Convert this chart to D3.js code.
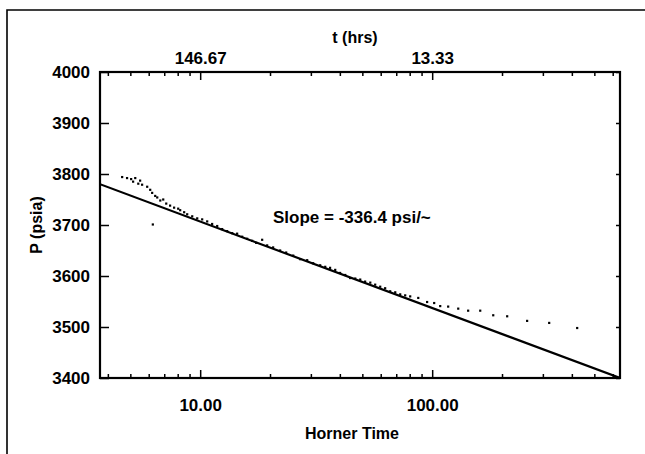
<!DOCTYPE html>
<html>
<head>
<meta charset="utf-8">
<script src="https://cdn.jsdelivr.net/npm/d3@7"></script>
<style>
body { margin: 0; background: #fff; }
text { font-family: Arial, "Liberation Sans", sans-serif; font-weight: bold; fill: #000; }
</style>
</head>
<body>
<svg id="mySvg" width="645" height="454"></svg>
<script>
//data
var hornerTime = [4.61, 4.84, 5.04, 5.25, 5.14, 5.41, 5.62, 5.51, 5.91, 6.09, 6.21, 6.40, 6.53, 6.73, 6.93, 7.14, 7.42, 7.72, 8.04, 8.20,
    8.53, 8.79, 9.24, 9.71, 10.2, 10.72, 11.26, 11.84, 12.44, 13.07, 13.74, 14.43, 15.17, 15.94, 16.75, 17.43, 18.5, 19.44, 20.63, 22.11,
    23.48, 25.18, 26.98, 28.92, 30.69, 32.9, 34.6, 36.3, 38.2, 40.1, 42.2, 44.3, 46.6, 48.96, 51.4, 54.1, 56.8, 59.7, 62.7, 65.9,
    69.3, 72.8, 76.5, 80.4, 87.1, 95.1, 102, 108.3, 117.2, 129.5, 142.9, 161.1, 183.3, 210.5, 256.6, 319.4, 421.7, 6.25];
var pressure = [3794, 3792, 3790, 3792, 3785, 3781, 3779, 3787, 3775, 3769, 3763, 3757, 3754, 3748, 3750, 3742, 3738, 3734, 3732, 3729,
    3725, 3721, 3717, 3713, 3711, 3707, 3702, 3698, 3692, 3688, 3684, 3683, 3677, 3673, 3669, 3665, 3671, 3660, 3656, 3650,
    3646, 3640, 3633, 3631, 3625, 3621, 3618, 3616, 3612, 3606, 3602, 3596, 3595, 3593, 3589, 3587, 3583, 3579, 3576, 3570,
    3568, 3564, 3562, 3560, 3557, 3549, 3547, 3541, 3540, 3536, 3532, 3532, 3523, 3521, 3512, 3508, 3498, 3701];
//straight line fit (two end points)
var fitX = [3.7, 645];
var fitP = [3780, 3400];
//axis ticks and labels
var xDomain = [3.7, 645];
var yDomain = [3400, 4000];
var minorTicks = [4, 5, 6, 7, 8, 9, 20, 30, 40, 50, 60, 70, 80, 90, 200, 300, 400, 500, 600];
var majorTicks = [10, 100];
var bottomLabels = ["10.00", "100.00"];
var topLabels = ["146.67", "13.33"];
var yTicks = [3400, 3500, 3600, 3700, 3800, 3900, 4000];
var slopeText = "Slope = -336.4 psi/~";

//plot box (note: "top" is taken by window.top)
var boxL = 100, boxR = 620, boxT = 72, boxB = 378;
var svg = d3.select("#mySvg");

var x = d3.scaleLog().domain(xDomain).range([boxL, boxR]);
var y = d3.scaleLinear().domain(yDomain).range([boxB, boxT]);

//scanned page border
svg.append("path")
    .attr("d", "M7,460L7,10L650,10")
    .attr("fill", "none")
    .attr("stroke", "#000")
    .attr("stroke-width", 1.6);

//minor ticks, bottom and top
svg.append("g").attr("transform", "translate(0," + boxB + ")")
    .call(d3.axisBottom(x).tickValues(minorTicks).tickSize(-4).tickFormat(""));
svg.append("g").attr("transform", "translate(0," + boxT + ")")
    .call(d3.axisTop(x).tickValues(minorTicks).tickSize(-4).tickFormat(""));

//major ticks with labels
svg.append("g").attr("transform", "translate(0," + boxB + ")")
    .call(d3.axisBottom(x).tickValues(majorTicks).tickSize(-8).tickPadding(21)
        .tickFormat(function(d, i) { return bottomLabels[i]; }));
svg.append("g").attr("transform", "translate(0," + boxT + ")")
    .call(d3.axisTop(x).tickValues(majorTicks).tickSize(-8).tickPadding(8)
        .tickFormat(function(d, i) { return topLabels[i]; }));

svg.append("g").attr("transform", "translate(" + boxL + ",0)")
    .call(d3.axisLeft(y).tickValues(yTicks).tickSize(-9).tickPadding(10).tickFormat(d3.format("d")));
svg.append("g").attr("transform", "translate(" + boxR + ",0)")
    .call(d3.axisRight(y).tickValues(yTicks).tickSize(-4).tickFormat(""));

svg.selectAll(".domain").remove();
svg.selectAll(".tick line").attr("stroke", "#000").attr("stroke-width", 1.5);
svg.selectAll(".tick text").style("font-size", "17px").attr("fill", "#000");

//plot frame
svg.append("rect")
    .attr("x", boxL).attr("y", boxT)
    .attr("width", boxR - boxL).attr("height", boxB - boxT)
    .attr("fill", "none")
    .attr("stroke", "#000")
    .attr("stroke-width", 2.2);

//clip for the data
svg.append("clipPath").attr("id", "plotClip")
    .append("rect").attr("x", boxL).attr("y", boxT).attr("width", boxR - boxL).attr("height", boxB - boxT);

var fitLine = d3.line()
    .x(function(d) { return x(d[0]); })
    .y(function(d) { return y(d[1]); });
svg.append("path")
    .attr("clip-path", "url(#plotClip)")
    .attr("d", fitLine(d3.zip(fitX, fitP)))
    .attr("fill", "none")
    .attr("stroke", "#000")
    .attr("stroke-width", 2.2);

svg.append("g").selectAll("rect")
    .data(d3.zip(hornerTime, pressure))
    .enter().append("rect")
    .attr("x", function(d) { return x(d[0]) - 1.1; })
    .attr("y", function(d) { return y(d[1]) - 1.1; })
    .attr("width", 2.2)
    .attr("height", 2.2)
    .attr("fill", "#000");

//texts
svg.append("text")
    .attr("x", 273).attr("y", y(3716)).attr("dy", "0.35em")
    .style("font-size", "17px")
    .text(slopeText);

svg.append("text")
    .attr("x", 355).attr("y", 37).attr("dy", "0.35em")
    .attr("text-anchor", "middle")
    .style("font-size", "16px")
    .text("t (hrs)");

svg.append("text")
    .attr("x", 352).attr("y", 433).attr("dy", "0.35em")
    .attr("text-anchor", "middle")
    .style("font-size", "16px")
    .text("Horner Time");

svg.append("text")
    .attr("transform", "translate(36," + y(3700) + ") rotate(-90)")
    .attr("dy", "0.35em")
    .attr("text-anchor", "middle")
    .style("font-size", "16px")
    .text("P (psia)");
</script>
</body>
</html>
